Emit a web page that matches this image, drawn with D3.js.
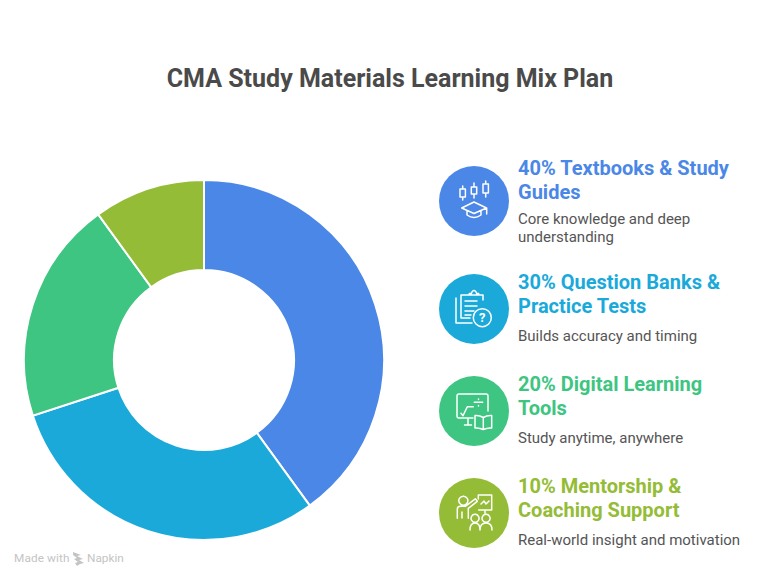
<!DOCTYPE html>
<html><head><meta charset="utf-8">
<script src="https://cdn.jsdelivr.net/npm/d3@7/dist/d3.min.js"></script>
<style>html,body{margin:0;padding:0;background:#fff}svg{display:block}text{font-family:Roboto,sans-serif}</style>
</head><body><svg id="c" width="768" height="576"></svg>
<script>
const titleText="CMA Study Materials Learning Mix Plan";
const categories=["Textbooks & Study Guides","Question Banks & Practice Tests","Digital Learning Tools","Mentorship & Coaching Support"];
const values=[40,30,20,10];
const colors=["#4b87e6","#1ba9da","#3dc581","#94bc36"];
const headings=[["40% Textbooks & Study","Guides"],["30% Question Banks &","Practice Tests"],["20% Digital Learning","Tools"],["10% Mentorship &","Coaching Support"]];
const notes=[["Core knowledge and deep","understanding"],["Builds accuracy and timing"],["Study anytime, anywhere"],["Real-world insight and motivation"]];
const iconY=[201,309,411,513];
const headY=[175,289,391,493];
const noteY=[224,341,443,545];

const svg=d3.select("#c");
svg.append("text").attr("x",390).attr("y",87).attr("text-anchor","middle")
 .attr("font-size",25).attr("font-weight",700).attr("fill","#4a4a4a").text(titleText);

const pie=d3.pie().sort(null).value(d=>d)(values);
const arc=d3.arc().innerRadius(90).outerRadius(180);
svg.append("g").attr("transform","translate(204,360)").selectAll("path").data(pie).join("path")
 .attr("d",arc).attr("fill",(d,i)=>colors[i]).attr("stroke","#fff").attr("stroke-width",2);

const iconPaths=[
 "M-11.3,-15v3M-11.3,-4v3M-14,-12h5.4v8h-5.4zM0,-18v4M0,-7v4M-2.7,-14h5.4v7h-5.4zM11.7,-20v3M11.7,-8v4M9,-17h5.4v9h-5.4zM0,1L-12.3,7L0,12.5L12.5,7ZM-7,10v4q7,5 14,0v-4M12.7,7v6",
 "M-4.7,-14h-8.3v23M-4.7,-14v-1.5h2q1,-3 2.7,-3t2.7,3h2v1.5h-9.4M4.7,-14h4.3v5M-13,9h9M-18,-11v25h16M-9,-8h12M-9,-3h12M-9,2h9M-9,6h6",
 "M-1,7h-14q-2,0,-2,-2v-20q0,-2,2,-2h27q2,0,2,2v15M-6,7v7M-9.500,14h7M-13,2.3l2,2.4l4.300,-9h6M0.300,-8.700h8.400M4.500,-12v0.400M4.500,-5.500v0.400M9.300,6.500q-4,-2.500,-8.300,-2v12.500q4.500,-0.500,8.300,1.500q4,-2,8.400,-1.500v-12.500q-4.400,-0.500,-8.400,2zM9.300,6.500v11.500",
 "M-10.700,-16.800a4.500,4.500 0 1 0 0.100,0M-16.700,5.300v-9q0,-3,3,-3h5l10,-7.500l2,2.500l-9,7v10M-12,-1v6M4.300,-14v-4h13.400v15h-13M11,-3v3M7,-9l3,-3l2,3l3,-3M1,1.300a4,4 0 1 0 0.100,0M12,1.300a4,4 0 1 0 0.100,0M-4,17q0,-7,5,-7t5,7M6,17q0,-7,6,-7t6,7"];
const extra=[[],[[8.3,8.7,9]],[],[]];

const rows=svg.selectAll("g.row").data(categories).join("g").attr("class","row");
rows.append("circle").attr("cx",474).attr("cy",(d,i)=>iconY[i]).attr("r",35).attr("fill",(d,i)=>colors[i]);
rows.append("path").attr("transform",(d,i)=>`translate(${474},${iconY[i]})`).attr("d",(d,i)=>iconPaths[i])
 .attr("fill","none").attr("stroke","#fff").attr("stroke-width",1.5).attr("stroke-linecap","round").attr("stroke-linejoin","round");
rows.each(function(d,i){
 const g=d3.select(this);
 extra[i].forEach(e=>{
  g.append("circle").attr("cx",474+e[0]).attr("cy",iconY[i]+e[1]).attr("r",e[2]).attr("fill",colors[i]).attr("stroke","#fff").attr("stroke-width",1.5);
  g.append("text").attr("x",474+e[0]).attr("y",iconY[i]+e[1]+4.500).attr("text-anchor","middle").attr("font-size",13).attr("font-weight",700).attr("fill","#fff").text("?");
 });
 headings[i].forEach((t,k)=>g.append("text").attr("x",518).attr("y",headY[i]+k*24).attr("font-size",20).attr("font-weight",700).attr("fill",colors[i]).text(t));
 notes[i].forEach((t,k)=>g.append("text").attr("x",518).attr("y",noteY[i]+k*18).attr("font-size",15).attr("fill","#555").text(t));
});

const wm=svg.append("g").attr("fill","#c4c4c4");
wm.append("text").attr("x",14).attr("y",562).attr("font-size",11.800).attr("letter-spacing",0.100).text("Made with");
wm.append("path").attr("d","M73,552l8,3l-4,1l6,3l-4,1l5,3l-4,1l-3,2l-2,-3l3,-1l-4,-3l3,-1l-4,-3z");
wm.append("text").attr("x",87).attr("y",562).attr("font-size",11.800).text("Napkin");
</script></body></html>
